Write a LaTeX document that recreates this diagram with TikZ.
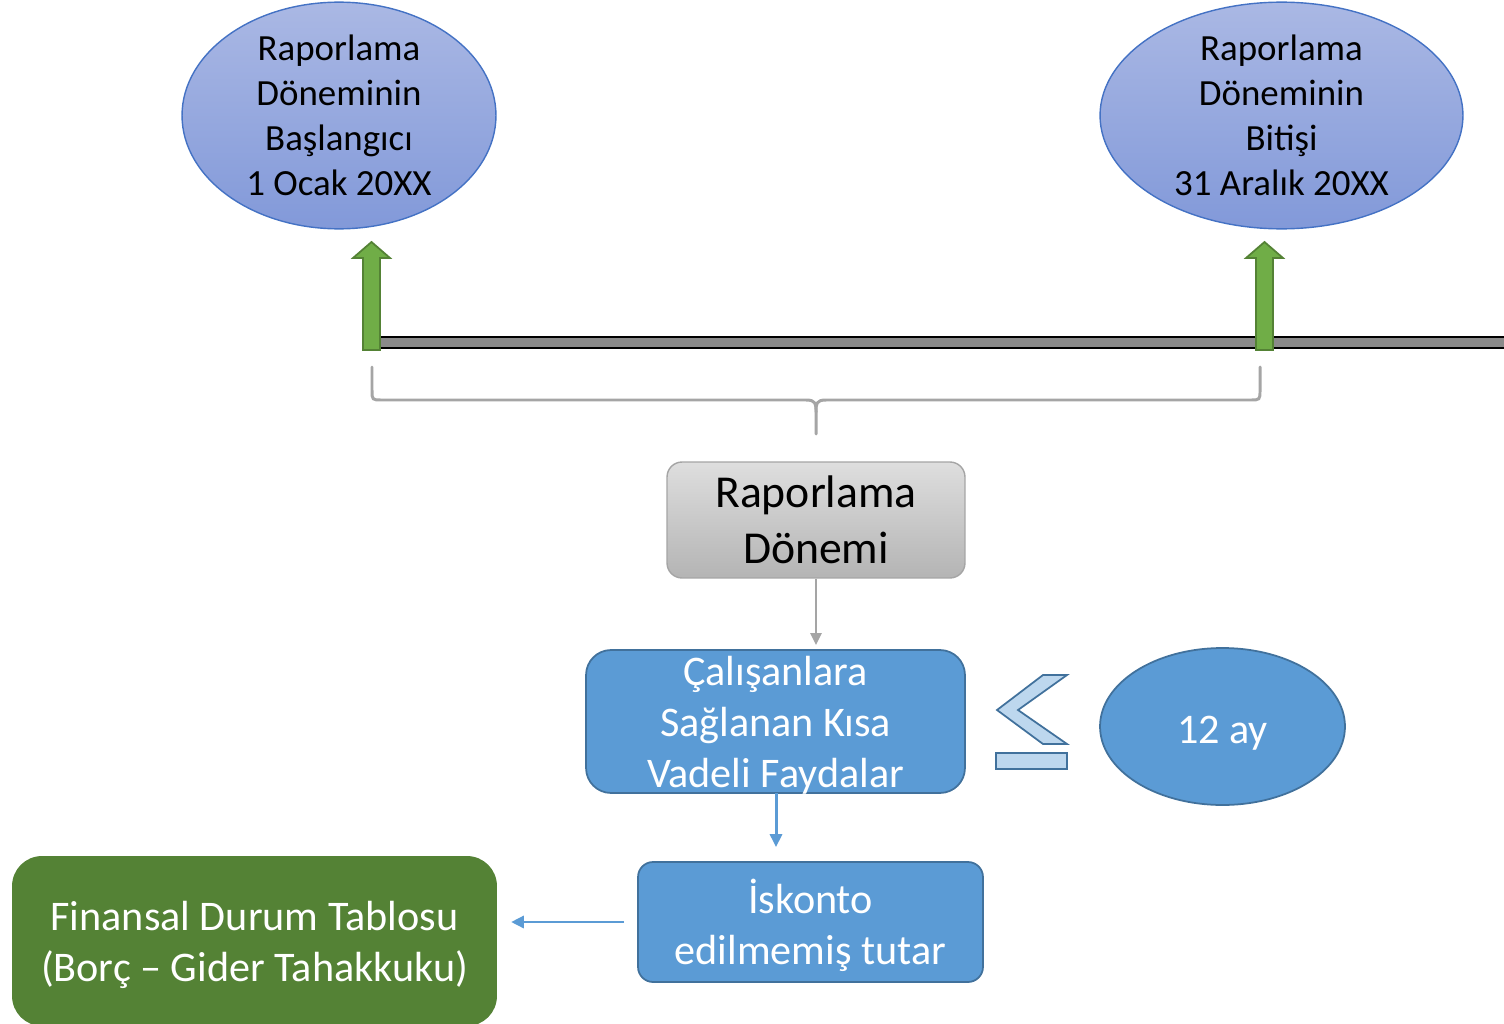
\documentclass[tikz,border=0pt]{standalone}
\usepackage{fontspec}
\setmainfont{Carlito}
\usetikzlibrary{shapes.geometric,arrows.meta}
\definecolor{ellbord}{HTML}{4472C4}
\definecolor{elltop}{HTML}{AAB8E4}
\definecolor{ellbot}{HTML}{8299D9}
\definecolor{gbord}{HTML}{A5A5A5}
\definecolor{gtop}{HTML}{DEDEDE}
\definecolor{gbot}{HTML}{B4B4B4}
\definecolor{bfill}{HTML}{5B9BD5}
\definecolor{bbord}{HTML}{41719C}
\definecolor{lfill}{HTML}{BDD7EE}
\definecolor{grfill}{HTML}{70AD47}
\definecolor{grbord}{HTML}{548235}
\definecolor{dgreen}{HTML}{548235}
\definecolor{barfill}{HTML}{8A8A8A}
\tikzset{
  ellnode/.style={ellipse, draw=ellbord, line width=0.8pt, top color=elltop, bottom color=ellbot,
    inner sep=0pt, align=center, font=\fontsize{21}{25.5}\selectfont},
  graybox/.style={rectangle, rounded corners=0.3cm, draw=gbord, line width=0.8pt, top color=gtop, bottom color=gbot,
    inner sep=0pt, align=center, font=\fontsize{26}{31.7}\selectfont},
  bluebox/.style={rectangle, draw=bbord, line width=1pt, fill=bfill, inner sep=0pt},
  greenbox/.style={rectangle, rounded corners=0.6cm, fill=dgreen, inner sep=0pt},
  wlabel/.style={text=white, align=center, inner sep=0pt, font=\fontsize{24}{29}\selectfont},
  bigarrow/.style={draw=grbord, fill=grfill, line width=1pt, line join=miter},
  brace/.style={draw=gbord, line width=1.7pt},
  grayconn/.style={draw=gbord, line width=1.5pt, -{Triangle[length=0.24cm,width=0.22cm]}},
  blueconn/.style={draw=bfill, line width=1.7pt, -{Triangle[length=0.26cm,width=0.24cm]}},
}
\begin{document}
\begin{tikzpicture}[x=0.02cm,y=-0.02cm]
\useasboundingbox (0,0) rectangle (1504,1024);
% timeline bar
\fill[barfill] (372,337) rectangle (1510,348);
\draw[black, line width=0.9pt] (372,337) -- (1510,337) (372,348) -- (1510,348);
% green arrows
\path[bigarrow] (363,350) -- (363,258) -- (353,258) -- (371.5,242) -- (390,258) -- (380,258) -- (380,350) -- cycle;
\path[bigarrow] (1256,350) -- (1256,258) -- (1246,258) -- (1264.5,242) -- (1283,258) -- (1273,258) -- (1273,350) -- cycle;
% ellipses
\node[ellnode, minimum width=6.28cm, minimum height=4.5cm] (start) at (339,115.5)
  {Raporlama\\Döneminin\\Başlangıcı\\1 Ocak 20XX};
\node[ellnode, minimum width=7.26cm, minimum height=4.5cm] (end) at (1281.5,115.5)
  {Raporlama\\Döneminin\\Bitişi\\31 Aralık 20XX};
% brace
\path[brace, line cap=round] (372,367) -- (372,390) .. controls (372,400) .. (382,400) -- (806,400)
  .. controls (816,400) and (816,404) .. (816,412) -- (816,434);
\path[brace, line cap=round] (1260,367) -- (1260,390) .. controls (1260,400) .. (1250,400) -- (826,400)
  .. controls (816,400) and (816,404) .. (816,412);
% boxes
\node[graybox, minimum width=5.96cm, minimum height=2.32cm] (period) at (816,520)
  {Raporlama\\Dönemi};
\node[bluebox, rounded corners=0.5cm, minimum width=7.58cm, minimum height=2.86cm,
  label={[wlabel, yshift=-0.08cm]center:Çalışanlara\\Sağlanan Kısa\\Vadeli Faydalar}] (benefit) at (775.5,721.5) {};
\node[bluebox, rounded corners=0.3cm, minimum width=6.9cm, minimum height=2.4cm,
  label={[wlabel, yshift=-0.06cm]center:İskonto\\edilmemiş tutar}] (disc) at (810.5,922) {};
\node[greenbox, minimum width=9.7cm, minimum height=3.4cm,
  label={[wlabel, yshift=-0.08cm]center:Finansal Durum Tablosu\\(Borç – Gider Tahakkuku)}] (fin) at (254.5,941) {};
\node[ellipse, draw=bbord, line width=1pt, fill=bfill, inner sep=0pt,
  minimum width=4.9cm, minimum height=3.14cm,
  label={[wlabel, yshift=-0.13cm]center:12 ay}] (month) at (1222.5,726.5) {};
% less-or-equal sign
\draw[bbord, fill=lfill, line width=1pt, line join=miter] (1043,675) -- (1067,675) -- (1018,710) -- (1067,744) -- (1043,744) -- (997,710) -- cycle;
\draw[bbord, fill=lfill, line width=1pt] (996,753) rectangle (1067,769);
% connectors
\draw[grayconn, shorten >=0.08cm] (period.south) -- (period.south |- benefit.north);
\draw[blueconn, shorten >=0.28cm] (776,793) coordinate (bstart) -- (bstart |- disc.north);
\draw[draw=bfill, line width=0.8pt, -{Triangle[length=0.25cm,width=0.25cm]}, shorten <=0.26cm, shorten >=0.28cm] (disc.west) -- (fin.east |- disc.west);
\end{tikzpicture}
\end{document}
